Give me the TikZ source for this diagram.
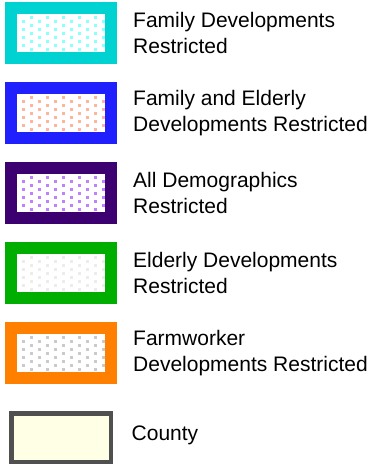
\documentclass[tikz,border=0pt]{standalone}
\usepackage{fontspec}
\setmainfont{Liberation Sans}
\usetikzlibrary{positioning}
\definecolor{famcyan}{HTML}{00D2D2}
\definecolor{famdot}{HTML}{8CFFFF}
\definecolor{mixblue}{HTML}{2020FF}
\definecolor{mixdot}{HTML}{FFB49C}
\definecolor{alldark}{HTML}{3C0070}
\definecolor{alldot}{HTML}{C080FF}
\definecolor{oldgreen}{HTML}{00AE00}
\definecolor{olddot}{HTML}{ECECEC}
\definecolor{farmorange}{HTML}{FF8000}
\definecolor{farmdot}{HTML}{CACACA}
\definecolor{cntyline}{HTML}{505050}
\definecolor{cntyfill}{HTML}{FFFFE6}
\begin{document}
\begin{tikzpicture}[x=1pt,y=-1pt,
    legbox/.style={draw,line width=12pt,fill=white,minimum width=100pt,minimum height=50pt,inner sep=0pt},
    legtext/.style={align=left,inner sep=0pt,font=\fontsize{21}{26}\selectfont}]
  \useasboundingbox (0,0) rectangle (381,466);
  % restricted categories
  \foreach \k/\bcol/\dcol/\lbl in {
      0/famcyan/famdot/{Family Developments\\Restricted},
      1/mixblue/mixdot/{Family and Elderly\\Developments Restricted},
      2/alldark/alldot/{All Demographics\\Restricted},
      3/oldgreen/olddot/{Elderly Developments\\Restricted},
      4/farmorange/farmdot/{Farmworker\\Developments Restricted}}{
    \node[legbox,draw=\bcol] (box\k) at (61,33+80*\k) {};
    \begin{scope}
      \clip (17,15+80*\k) rectangle (105,52+80*\k);
      \foreach \r in {0,...,4}
        \foreach \c in {0,...,4}
          \fill[\dcol] (30+16*\c,16+8*\r+80*\k) rectangle ++(2.6,2.6);
      \foreach \r in {0,...,3}
        \foreach \c in {0,...,5}
          \fill[\dcol] (22+16*\c,20+8*\r+80*\k) rectangle ++(2.6,2.6);
    \end{scope}
    \node[legtext,right=16pt of box\k] (lbl\k) {\lbl};
  }
  % county
  \node[draw=cntyline,fill=cntyfill,line width=4.5pt,minimum width=99.5pt,minimum height=48.5pt,inner sep=0pt] (county) at (61,437.5) {};
  \node[legtext,right=18.5pt of county,yshift=2pt] (cntylbl) {County};
\end{tikzpicture}
\end{document}
